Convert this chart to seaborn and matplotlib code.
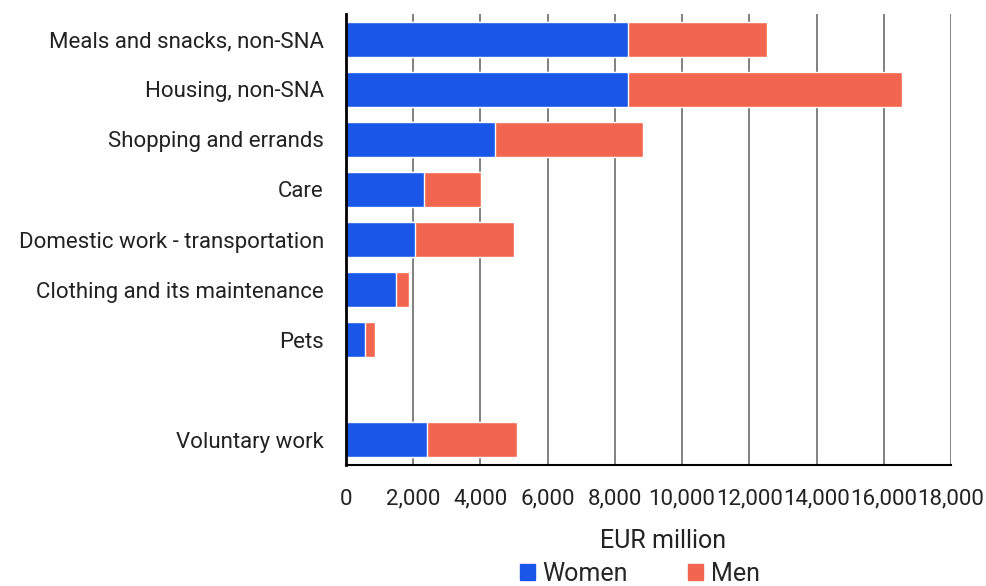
import pandas as pd
import seaborn as sns
import matplotlib.pyplot as plt
from matplotlib.patches import Patch

categories = ["Meals and snacks, non-SNA", "Housing, non-SNA", "Shopping and errands", "Care",
              "Domestic work - transportation", "Clothing and its maintenance", "Pets",
              "Voluntary work"]
women = [8390, 8380, 4440, 2330, 2050, 1500, 565, 2410]
men = [4130, 8150, 4410, 1690, 2950, 370, 300, 2665]
order = categories[:7] + [" "] + categories[7:]

BLUE = "#1a56e8"
RED = "#f2654e"


def plot():
    df = pd.DataFrame({"category": categories, "women": women, "men": men})
    df["total"] = df["women"] + df["men"]

    sns.set_style("white")
    plt.rcParams["font.family"] = ["Roboto", "DejaVu Sans"]

    fig, ax = plt.subplots(figsize=(9.87, 5.86), dpi=100)
    fig.subplots_adjust(left=0.3506, right=0.9635, top=0.976, bottom=0.2065)

    sns.barplot(data=df, y="category", x="total", order=order, color=RED, width=0.7,
                edgecolor="white", linewidth=1, saturation=1, ax=ax)
    sns.barplot(data=df, y="category", x="women", order=order, color=BLUE, width=0.7,
                edgecolor="white", linewidth=1, saturation=1, ax=ax)

    ax.set_xlim(0, 18000)
    ax.set_xticks(range(0, 18001, 2000))
    ax.set_xticklabels(["{:,}".format(v) for v in range(0, 18001, 2000)])
    ax.xaxis.grid(True, color="#6b6b6b", linewidth=1.2)
    ax.set_axisbelow(True)
    ax.tick_params(axis="x", length=0, pad=17, labelsize=16, colors="#222222")
    ax.tick_params(axis="y", length=0, pad=16, labelsize=16, colors="#222222")
    ax.set_ylabel("")
    ax.set_xlabel("EUR million", fontsize=18, color="#222222")
    ax.xaxis.set_label_coords(0.524, -0.1685)
    ax.xaxis.label.set_va("center")

    for s in ["top", "right"]:
        ax.spines[s].set_visible(False)
    ax.spines["left"].set_color("black")
    ax.spines["left"].set_linewidth(2)
    ax.spines["bottom"].set_color("black")
    ax.spines["bottom"].set_linewidth(1.5)

    handles = [Patch(color=BLUE, label="Women"), Patch(color=RED, label="Men")]
    fig.legend(handles=handles, loc="center", bbox_to_anchor=(640 / 987, 12 / 586), ncol=2,
               frameon=False, fontsize=18, handlelength=0.6, handleheight=0.6,
               handletextpad=0.3, columnspacing=2.4, borderpad=0)

    fig.savefig("out.png", dpi=100)


def main():
    plot()


if __name__ == '__main__':
    main()
